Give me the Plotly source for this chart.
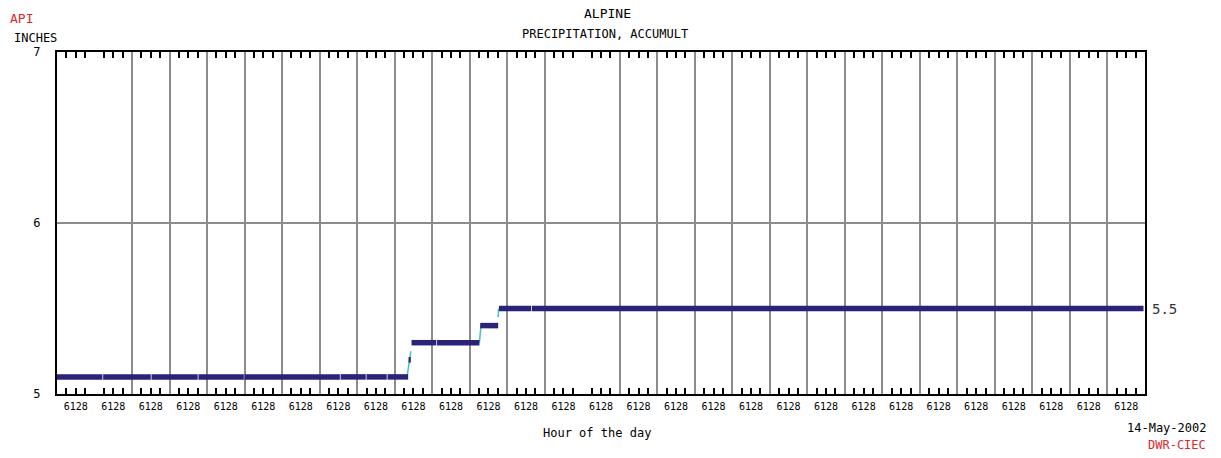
import plotly.graph_objects as go

# ---- data ----
hour_labels = ["6128"] * 29                   # x tick labels (one per hour interval)
label_pos = [h + 0.5 for h in range(29)]      # interval centres
grid_hours = [h for h in range(2, 29) if h != 14]   # vertical grid lines drawn
minor_ticks = [h + f for h in range(29) for f in (0.25, 0.5, 0.75)]

# accumulated precipitation, horizontal reading segments (start hour, end hour, inches)
seg_start = [0.0, 1.23, 2.52, 3.77, 5.00, 7.56, 8.25, 8.81, 9.37, 9.45, 10.13, 11.28, 11.78, 12.66]
seg_end   = [1.21, 2.50, 3.75, 4.98, 7.54, 8.23, 8.79, 9.36, 9.43, 10.11, 11.26, 11.76, 12.64, 28.96]
seg_value = [5.1, 5.1, 5.1, 5.1, 5.1, 5.1, 5.1, 5.1, 5.2, 5.3, 5.3, 5.4, 5.5, 5.5]

# rises between readings
rise_x = [9.33, 9.43, None, 11.26, 11.30, None, 11.76, 11.77]
rise_y = [5.10, 5.25, None, 5.30, 5.40, None, 5.45, 5.50]

last_value = "5.5"

MONO = "DejaVu Sans Mono"
NAVY = "#2b2378"
TEAL = "#3cc4c4"
RED = "#e0262a"

fig = go.Figure()

# invisible traces so the overlay axes are drawn
for ax in ("x2", "x3"):
    fig.add_trace(go.Scatter(x=[0, 29], y=[None, None], mode="lines", xaxis=ax,
                             hoverinfo="skip", showlegend=False))

# teal risers
fig.add_trace(go.Scatter(x=rise_x, y=rise_y, mode="lines",
                         line=dict(color=TEAL, width=1.5), xaxis="x",
                         hoverinfo="skip", showlegend=False))

# navy horizontal readings
xs, ys = [], []
for a, b, v in zip(seg_start, seg_end, seg_value):
    xs += [a, b, None]
    ys += [v, v, None]
fig.add_trace(go.Scatter(x=xs, y=ys, mode="lines",
                         line=dict(color=NAVY, width=5.5), xaxis="x",
                         hoverinfo="skip", showlegend=False))

fig.update_layout(
    width=1221, height=458,
    margin=dict(l=57, r=76, t=52, b=64),
    paper_bgcolor="white", plot_bgcolor="white",
    showlegend=False,
    xaxis2=dict(range=[0, 29], overlaying="x", tickmode="array", tickvals=grid_hours,
                showticklabels=False, ticks="", showgrid=True, gridcolor="#8c8c8c",
                gridwidth=1.6, zeroline=False, showline=False, side="bottom"),
    xaxis3=dict(range=[0, 29], overlaying="x", tickmode="array", tickvals=minor_ticks,
                showticklabels=False, ticks="inside", ticklen=6, tickwidth=1.5,
                tickcolor="black", showgrid=False, zeroline=False, showline=False,
                side="top"),
    xaxis=dict(range=[0, 29], tickmode="array", tickvals=label_pos, ticktext=hour_labels,
               ticks="", showgrid=False, zeroline=False,
               showline=True, linecolor="black", linewidth=2, mirror=True,
               ticklabelstandoff=2,
               tickfont=dict(family=MONO, size=10, color="black"),
               minor=dict(tickmode="array", tickvals=minor_ticks, ticks="inside",
                          ticklen=6, tickwidth=1.5, tickcolor="black", showgrid=False)),
    yaxis=dict(range=[5, 7], tickmode="array", tickvals=[5, 6, 7], ticktext=["5", "6", "7"],
               ticks="", showgrid=True, gridcolor="#8c8c8c", gridwidth=1.6, zeroline=False,
               showline=True, linecolor="black", linewidth=2, mirror=True,
               ticklabelstandoff=12,
               tickfont=dict(family=MONO, size=12, color="black")),
)

ann = [
    dict(text="API", x=8, y=18, color=RED, size=13, xanchor="left"),
    dict(text="INCHES", x=12, y=38, color="black", size=12, xanchor="left"),
    dict(text="ALPINE", x=607, y=13, color="black", size=13, xanchor="center"),
    dict(text="PRECIPITATION, ACCUMULT", x=605, y=34, color="black", size=12, xanchor="center"),
    dict(text="Hour of the day", x=597, y=433, color="black", size=12, xanchor="center"),
    dict(text="14-May-2002", x=1208, y=428, color="black", size=12, xanchor="right"),
    dict(text="DWR-CIEC", x=1208, y=445, color=RED, size=12, xanchor="right"),
]
L, R, T, B = 57, 1221 - 76, 52, 458 - 64
for a in ann:
    fig.add_annotation(text=a["text"], x=(a["x"] - L) / (R - L), y=(B - a["y"]) / (B - T),
                       xref="paper", yref="paper", xanchor=a["xanchor"], yanchor="middle",
                       showarrow=False,
                       font=dict(family=MONO, size=a["size"], color=a["color"]))

# right-hand label for last value
fig.add_annotation(text=last_value, x=1, y=float(last_value), xref="paper", yref="y",
                   xanchor="left", yanchor="middle", xshift=5, showarrow=False,
                   font=dict(family=MONO, size=14, color="#333333"))

fig.write_html("out.html")
